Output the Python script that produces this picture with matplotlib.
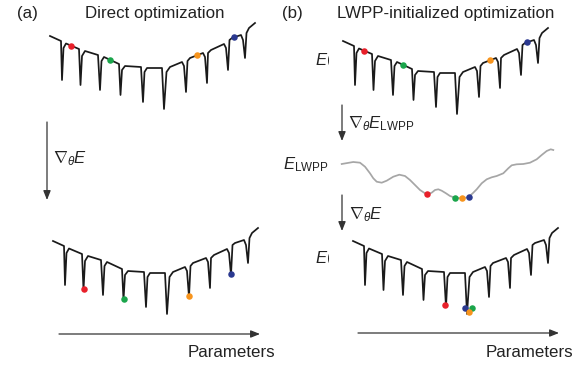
import numpy as np
import matplotlib.pyplot as plt
from matplotlib.transforms import Bbox, TransformedBbox

plt.rcParams['font.family'] = 'Liberation Sans'
plt.rcParams['mathtext.fontset'] = 'custom'
plt.rcParams['mathtext.rm'] = 'Liberation Sans'
plt.rcParams['mathtext.it'] = 'Liberation Sans:italic'
plt.rcParams['mathtext.fallback'] = 'cm'

# rugged loss landscape (pixel units, y grows downward)
land_x = [50, 61, 62, 63.5, 66, 79, 80.5, 82, 85, 98, 100, 101.5, 104, 119, 120.5, 122, 125,
          141, 143, 144.5, 147, 162, 164, 166.5, 170, 182, 184, 186, 187.5, 190, 203, 205,
          207, 208, 211, 224, 226, 228, 229.5, 232, 241, 243, 245, 246.5, 249, 255]
land_y = [36, 41, 80, 48, 43.5, 49, 85, 56, 51, 55, 90, 61, 57, 64, 95, 70, 66,
          67, 102, 72, 68, 68, 109, 72, 67, 62, 66, 92, 61, 58, 53, 57,
          83, 53, 50, 44, 48, 70, 40, 38, 35, 40, 58, 33, 28, 23]

# smooth LWPP surrogate landscape
lwpp_x = [341.7, 353.3, 360, 365, 370, 373.3, 376.7, 381.7, 386.7, 393.3, 399.3, 405, 410,
          415, 420, 425, 428.3, 431.7, 435, 438.3, 441.7, 446, 450, 455, 461.7, 468.3,
          472.7, 476.7, 481.7, 486.7, 491.7, 496.7, 503.3, 508.3, 511.7, 516.7, 523.3,
          530, 536.7, 541.7, 546.7, 550.7, 553.3]
lwpp_y = [164, 162, 162.7, 166.7, 173.3, 178.3, 181.7, 182.7, 180.7, 176.7, 174.7, 176, 180,
          185, 190, 193.3, 194, 192.7, 190, 189.3, 190.7, 193.3, 196, 197.7, 198.3, 197.3,
          193.3, 189.3, 183.3, 179.3, 177.3, 176, 173.3, 168.3, 165.3, 164.3, 164,
          162.7, 159.3, 155, 151, 149.3, 150]

red, green, orange, blue = '#e8202a', '#1aa54b', '#f7941d', '#2b3990'
colors = [red, green, orange, blue]

# starting points (same for both panels)
start_x = [71, 110, 197, 234]
# after direct optimization
direct_x = [80.5, 120.5, 186, 228]
direct_y = [84, 94, 91, 69]
# after LWPP pre-optimization
lwpp_pts_x = [427, 455, 462, 469]
# after LWPP-initialized optimization (red, blue, green, orange)
final_colors = [red, blue, green, orange]
final_x = [142, 162, 169, 166]
final_y = [100, 103, 103, 107]

fig = plt.figure(figsize=(5.87, 3.65), dpi=100)
ax = fig.add_axes([0, 0, 1, 1])
ax.set_xlim(0, 587)
ax.set_ylim(365, 0)
ax.axis('off')

lx = np.array(land_x)
ly = np.array(land_y)
lk = dict(color='#1a1a1a', lw=1.25, solid_joinstyle='round', zorder=2)
ms = 6.5 * 72 / 100


def landscape(dx, dy):
    ax.plot(lx + dx, ly + dy, **lk)


def dots(xs, ys, cols):
    for x, y, c in zip(xs, ys, cols):
        ax.plot(x, y, 'o', color=c, ms=ms, mec='none', zorder=3)


# (a) direct optimization
landscape(0, 0)
dots(start_x, np.interp(start_x, lx, ly), colors)
landscape(3, 205)
dots(np.array(direct_x) + 3, np.array(direct_y) + 205, colors)

# (b) LWPP-initialized optimization
landscape(293, 5)
dots(np.array(start_x) + 293, np.interp(start_x, lx, ly) + 5, colors)
ax.plot(lwpp_x, lwpp_y, color='#a6a6a6', lw=1.25, solid_joinstyle='round', zorder=2)
dots(lwpp_pts_x, np.interp(lwpp_pts_x, lwpp_x, lwpp_y), colors)
landscape(303, 205)
dots(np.array(final_x) + 303, np.array(final_y) + 205, final_colors)

# arrows
ak = dict(arrowstyle='-|>,head_length=0.55,head_width=0.22', color='#333333', lw=0.9,
          shrinkA=0, shrinkB=0)
ax.annotate('', xy=(47, 200), xytext=(47, 122), arrowprops=ak)
ax.annotate('', xy=(342, 141), xytext=(342, 105), arrowprops=ak)
ax.annotate('', xy=(342, 231), xytext=(342, 195), arrowprops=ak)
ax.annotate('', xy=(260, 334), xytext=(59, 334), arrowprops=ak)
ax.annotate('', xy=(559, 333), xytext=(358, 333), arrowprops=ak)

tc = '#222222'
ax.text(17, 18, '(a)', fontsize=12.2, color=tc)
ax.text(155, 18, 'Direct optimization', fontsize=12.2, color=tc, ha='center')
ax.text(282, 18, '(b)', fontsize=12.2, color=tc)
ax.text(446, 18, 'LWPP-initialized optimization', fontsize=12.2, color=tc, ha='center')
ax.text(275, 357, 'Parameters', fontsize=12.2, color=tc, ha='right')
ax.text(573, 357, 'Parameters', fontsize=12.2, color=tc, ha='right')

mk = dict(fontsize=12, color=tc)
ax.text(53, 163, r'$\nabla_{\theta}E$', **mk)
ax.text(348, 128, r'$\nabla_{\theta}E_{\mathrm{LWPP}}$', **mk)
ax.text(349, 219, r'$\nabla_{\theta}E$', **mk)
ax.text(283, 169, r'$E_{\mathrm{LWPP}}$', **mk)

clip = TransformedBbox(Bbox([[0, 0], [329, 365]]), ax.transData)
for y in (65, 263):
    t = ax.text(315, y, r'$E(\theta)$', **mk)
    t.set_clip_box(clip)
    t.set_clip_on(True)

fig.savefig('out.png', dpi=100)
